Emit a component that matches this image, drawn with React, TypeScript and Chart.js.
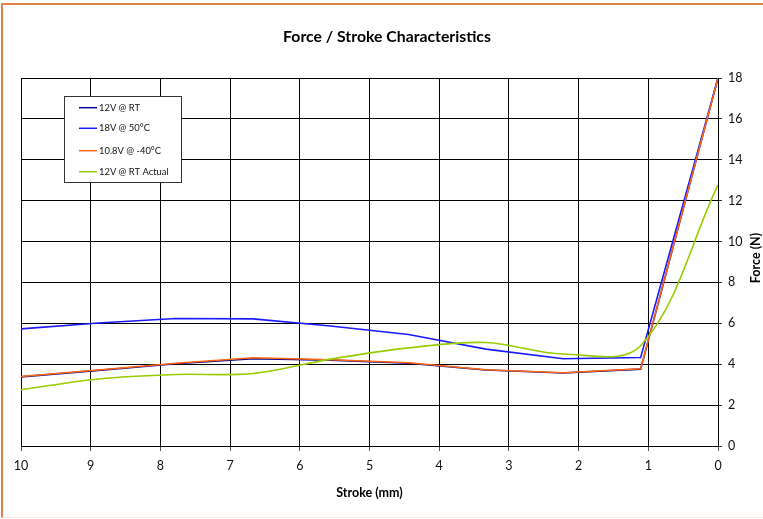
import React, { useEffect, useRef } from "react";
import { Chart, registerables } from "chart.js";

Chart.register(...registerables);

const strokeMm = [10, 8.89, 7.78, 6.67, 5.56, 4.44, 3.33, 2.22, 1.11, 0];
const rt12V = [3.38, 3.7, 4.02, 4.27, 4.2, 4.05, 3.72, 3.57, 3.76, 18];
const hot18V = [5.73, 6.02, 6.24, 6.22, 5.87, 5.45, 4.74, 4.27, 4.33, 18];
const cold108V = [3.4, 3.72, 4.05, 4.32, 4.22, 4.07, 3.73, 3.58, 3.78, 18];
const rtActual = [2.75, 3.28, 3.5, 3.55, 4.25, 4.8, 5.06, 4.5, 4.9, 12.77];

const seriesLabels = ["12V @ RT", "18V @ 50°C", "10.8V @ -40°C", "12V @ RT Actual"];
const seriesColors = ["#000099", "#1a1aff", "#ff6611", "#99cc00"];
const seriesOrder = [3, 2, 1, 0];
const titleText = "Force / Stroke Characteristics";
const xTitle = "Stroke (mm)";
const yTitle = "Force (N)";

const FONT = "Lato, 'Open Sans', sans-serif";

const overlayPlugin = {
  id: "overlay",
  afterDraw(chart: any) {
    const { ctx, chartArea } = chart;
    ctx.save();
    // title
    ctx.fillStyle = "#000";
    ctx.font = `bold 15.8px ${FONT}`;
    ctx.textAlign = "center";
    ctx.textBaseline = "middle";
    ctx.fillText(titleText, 387, 37);
    // x title
    ctx.font = `bold 12.5px ${FONT}`;
    ctx.fillText(xTitle, (chartArea.left + chartArea.right) / 2, 493);
    // y title
    ctx.save();
    ctx.translate(756, (chartArea.top + chartArea.bottom) / 2 - 4);
    ctx.rotate(-Math.PI / 2);
    ctx.fillText(yTitle, 0, 0);
    ctx.restore();

    // legend box
    const bx = chartArea.left + 43;
    const by = chartArea.top + 18;
    const bw = 117;
    const bh = 86;
    ctx.fillStyle = "#fff";
    ctx.fillRect(bx, by, bw, bh);
    ctx.strokeStyle = "#333";
    ctx.lineWidth = 1;
    ctx.strokeRect(bx + 0.5, by + 0.5, bw, bh);
    ctx.font = `9.4px ${FONT}`;
    ctx.textAlign = "left";
    ctx.textBaseline = "middle";
    const rows = [11.7, 32.3, 54.7, 75.7];
    chart.data.datasets.forEach((ds: any, i: number) => {
      const y = by + rows[i];
      ctx.strokeStyle = ds.borderColor;
      ctx.lineWidth = 1.5;
      ctx.beginPath();
      ctx.moveTo(bx + 15, y);
      ctx.lineTo(bx + 33, y);
      ctx.stroke();
      ctx.fillStyle = "#111";
      ctx.fillText(ds.label, bx + 35, y);
    });
    ctx.restore();
  },
};

export default function App() {
  const canvasRef = useRef<HTMLCanvasElement | null>(null);

  useEffect(() => {
    if (!canvasRef.current) return;
    const mk = (vals: number[]) => strokeMm.map((x, i) => ({ x, y: vals[i] }));
    const allSeries = [rt12V, hot18V, cold108V, rtActual];
    const chart = new Chart(canvasRef.current, {
      type: "line",
      data: {
        datasets: allSeries.map((vals, i) => ({
          label: seriesLabels[i],
          data: mk(vals),
          borderColor: seriesColors[i],
          backgroundColor: seriesColors[i],
          borderWidth: 1.6,
          pointRadius: 0,
          tension: i === 3 ? 0.35 : 0,
          fill: false,
          order: seriesOrder[i],
        })),
      },
      options: {
        animation: false,
        responsive: false,
        maintainAspectRatio: false,
        layout: { padding: { left: 21, top: 78, right: 0, bottom: 0 } },
        plugins: {
          legend: { display: false },
          title: { display: false },
          tooltip: { enabled: false },
        },
        scales: {
          x: {
            type: "linear",
            reverse: true,
            min: 0,
            max: 10,
            ticks: {
              stepSize: 1,
              color: "#111",
              font: { family: FONT, size: 12.5 },
              padding: 7,
            },
            grid: { color: "#000", lineWidth: 1, tickLength: 5, tickColor: "#555" },
            border: { color: "#000", width: 1 },
            afterFit: (s: any) => {
              s.height = 519 - 446;
            },
          },
          y: {
            type: "linear",
            position: "right",
            min: 0,
            max: 18,
            ticks: {
              stepSize: 2,
              color: "#111",
              font: { family: FONT, size: 12.5 },
              padding: 6,
            },
            grid: { color: "#000", lineWidth: 1, tickLength: 4, tickColor: "#333" },
            border: { color: "#000", width: 1 },
            afterFit: (s: any) => {
              s.width = 763 - 718;
            },
          },
        },
      },
      plugins: [overlayPlugin],
    });
    return () => chart.destroy();
  }, []);

  return (
    <div
      style={{
        position: "fixed",
        left: 0,
        top: 0,
        width: 763,
        height: 519,
        background: "#fff",
        overflow: "hidden",
      }}
    >
      <div
        style={{
          position: "absolute",
          left: 1,
          top: 3,
          width: 762,
          height: 515,
          borderLeft: "2px solid #e0824a",
          borderTop: "2px solid #e0824a",
          borderBottom: "1px solid #f6e8de",
          boxSizing: "border-box",
        }}
      />
      <canvas
        ref={canvasRef}
        width={763}
        height={519}
        style={{ position: "absolute", left: 0, top: 0, width: 763, height: 519 }}
      />
    </div>
  );
}
